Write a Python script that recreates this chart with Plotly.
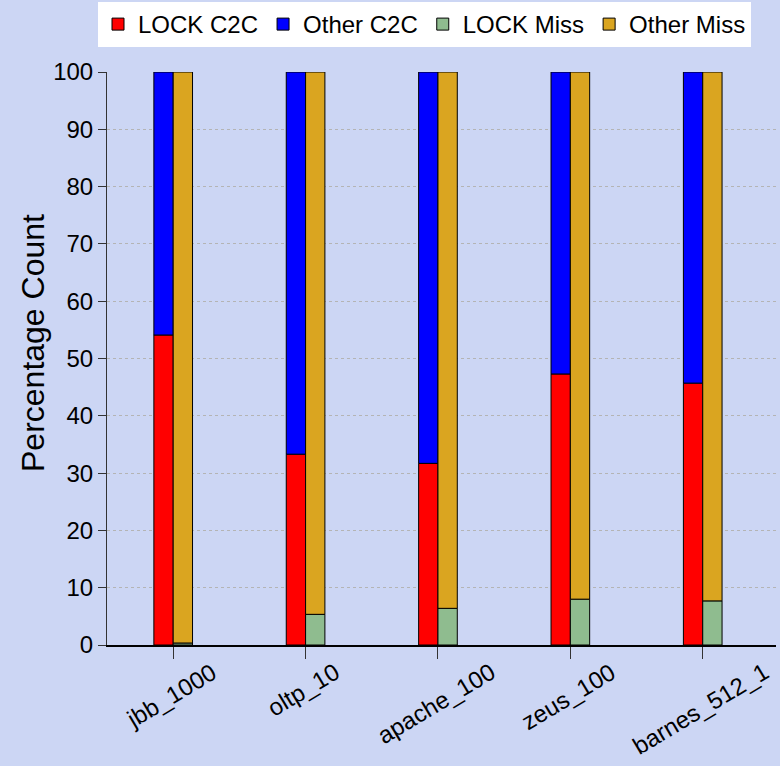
import plotly.graph_objects as go

categories = ["jbb_1000", "oltp_10", "apache_100", "zeus_100", "barnes_512_1"]
lock_c2c = [54.1, 33.3, 31.7, 47.3, 45.7]
other_c2c = [100 - v for v in lock_c2c]
lock_miss = [0.35, 5.35, 6.4, 8.0, 7.7]
other_miss = [100 - v for v in lock_miss]

BW = 0.146
FONT = "Liberation Sans, Arial, sans-serif"
BG = "#ccd6f4"

fig = go.Figure()
fig.add_bar(name="LOCK C2C", x=categories, y=lock_c2c, base=0,
            width=BW, offset=-BW, marker=dict(color="#ff0000", line=dict(color="black", width=1)))
fig.add_bar(name="Other C2C", x=categories, y=other_c2c, base=lock_c2c,
            width=BW, offset=-BW, marker=dict(color="#0000ff", line=dict(color="black", width=1)))
fig.add_bar(name="LOCK Miss", x=categories, y=lock_miss, base=0,
            width=BW, offset=0, marker=dict(color="#8fbc8f", line=dict(color="black", width=1)))
fig.add_bar(name="Other Miss", x=categories, y=other_miss, base=lock_miss,
            width=BW, offset=0, marker=dict(color="#daa520", line=dict(color="black", width=1)))

annotations = [dict(
    text="Percentage Count", textangle=-90,
    xref="paper", yref="paper",
    x=(33 - 107) / 669, y=(645 - 343) / 573,
    xanchor="center", yanchor="middle", showarrow=False,
    font=dict(family=FONT, size=32, color="black"),
)]
for c in categories:
    annotations.append(dict(
        text=c, textangle=-31,
        xref="x", yref="paper", x=c, y=0,
        xanchor="center", yanchor="top", xshift=-2, yshift=-10,
        showarrow=False,
        font=dict(family=FONT, size=24, color="black"),
    ))

fig.update_layout(
    width=780, height=766, autosize=False,
    margin=dict(l=107, r=4, t=72, b=121, autoexpand=False),
    barmode="overlay",
    paper_bgcolor=BG, plot_bgcolor=BG,
    font=dict(family=FONT, color="black", size=24),
    showlegend=True,
    legend=dict(
        orientation="h",
        xref="container", yref="container",
        x=98 / 780, xanchor="left",
        y=1 - 2 / 766, yanchor="top",
        bgcolor="white", borderwidth=0,
        font=dict(family=FONT, size=24, color="black"),
        itemwidth=30, tracegroupgap=0,
        itemclick=False,
    ),
    annotations=annotations,
)

fig.update_xaxes(
    type="category", automargin=False, showticklabels=False,
    showline=True, linecolor="black", linewidth=2,
    ticks="outside", ticklen=12, tickcolor="#333333", tickwidth=1,
    showgrid=False, zeroline=False,
)
fig.update_yaxes(
    range=[0, 100], dtick=10, automargin=False,
    showline=True, linecolor="#333333", linewidth=1,
    ticks="outside", ticklen=8, tickcolor="#333333",
    tickfont=dict(family=FONT, size=24, color="black"),
    showgrid=True, gridcolor="#b4b4b4", griddash="dot", gridwidth=1,
    zeroline=False,
)

fig.write_html(
    "out.html",
    config={"displayModeBar": False},
    post_script="document.body.style.margin='0';document.body.style.background='" + BG + "';",
)
